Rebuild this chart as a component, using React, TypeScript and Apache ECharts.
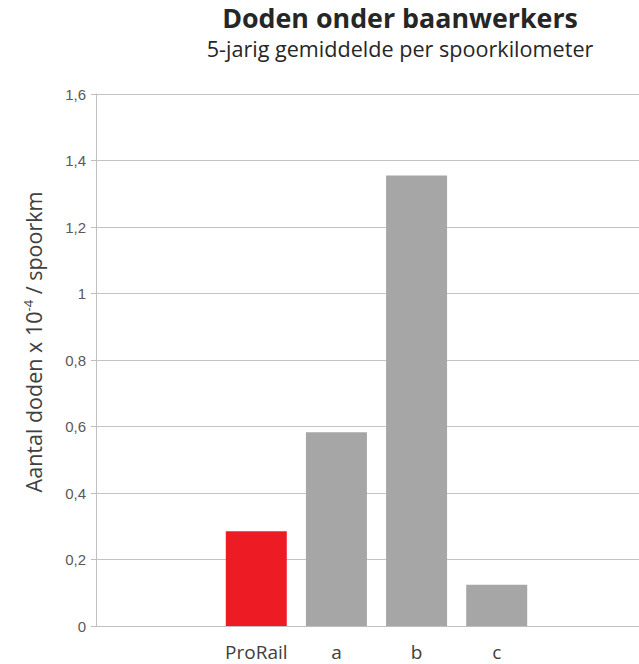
import React, { useEffect, useRef } from "react";
import * as echarts from "echarts";

const categories = ["", "", "ProRail", "a", "b", "c", "", ""];
const values: (number | null)[] = [null, null, 0.285, 0.583, 1.355, 0.124, null, null];
const highlight = "ProRail";
const titleText = "Doden onder baanwerkers";
const subtitleText = "5-jarig gemiddelde per spoorkilometer";
const yNameBefore = "Aantal doden x 10";
const yNameSup = "-4";
const yNameAfter = " / spoorkm";

export default function App() {
  const ref = useRef<HTMLDivElement>(null);
  useEffect(() => {
    if (!ref.current) return;
    const chart = echarts.init(ref.current, undefined, { renderer: "svg" });
    const font = "'Open Sans', 'Noto Sans', sans-serif";
    chart.setOption({
      animation: false,
      grid: { left: 96, top: 94, bottom: 38, right: 2, containLabel: false },
      graphic: [
        {
          type: "text",
          x: 400,
          y: 3,
          style: {
            text: titleText,
            fontFamily: font,
            fontWeight: "bold",
            fontSize: 26.8,
            lineHeight: 28,
            fill: "#262626",
            textAlign: "center",
            textVerticalAlign: "top",
          },
        },
        {
          type: "text",
          x: 400,
          y: 36,
          style: {
            text: subtitleText,
            fontFamily: font,
            fontSize: 21.6,
            lineHeight: 24,
            fill: "#262626",
            textAlign: "center",
            textVerticalAlign: "top",
          },
        },
        {
          type: "text",
          x: 33,
          y: 342,
          rotation: Math.PI / 2,
          style: {
            text: `{n|${yNameBefore}}{s|${yNameSup}}{n|${yNameAfter}}`,
            textAlign: "center",
            textVerticalAlign: "middle",
            rich: {
              n: { fontFamily: font, fontSize: 21.5, fill: "#404040", color: "#404040" },
              s: { fontFamily: font, fontSize: 13, fill: "#404040", color: "#404040", verticalAlign: "top", padding: [0, 0, 11, 0] },
            },
          },
        },
      ],
      xAxis: {
        type: "category",
        data: categories,
        boundaryGap: false,
        axisLine: { lineStyle: { color: "#bfbfbf", width: 1 } },
        axisTick: { show: false },
        axisLabel: { fontFamily: font, fontSize: 19, lineHeight: 20, color: "#404040", margin: 16, interval: 0 },
        splitLine: { show: false },
      },
      yAxis: {
        type: "value",
        min: 0,
        max: 1.6,
        interval: 0.2,
        axisLine: { show: true, lineStyle: { color: "#bfbfbf", width: 1 } },
        axisTick: { show: true, length: 5, lineStyle: { color: "#bfbfbf" } },
        axisLabel: {
          fontFamily: "'Liberation Sans', Arial, sans-serif",
          fontSize: 15,
          color: "#595959",
          margin: 10,
          formatter: (v: number) => String(Number(v.toFixed(1))).replace(".", ","),
        },
        splitLine: { show: true, lineStyle: { color: "#c4c4c4", width: 1 } },
      },
      series: [
        {
          type: "bar",
          barWidth: 61,
          data: values.map((v, i) => ({
            value: v,
            itemStyle: { color: categories[i] === highlight ? "#ed1c24" : "#a6a6a6" },
          })),
        },
      ],
    });
    return () => chart.dispose();
  }, []);
  return (
    <div style={{ position: "fixed", left: 0, top: 0, width: 639, height: 664, overflow: "hidden", background: "#fff" }}>
      <div ref={ref} style={{ width: 660, height: 664 }} />
    </div>
  );
}
